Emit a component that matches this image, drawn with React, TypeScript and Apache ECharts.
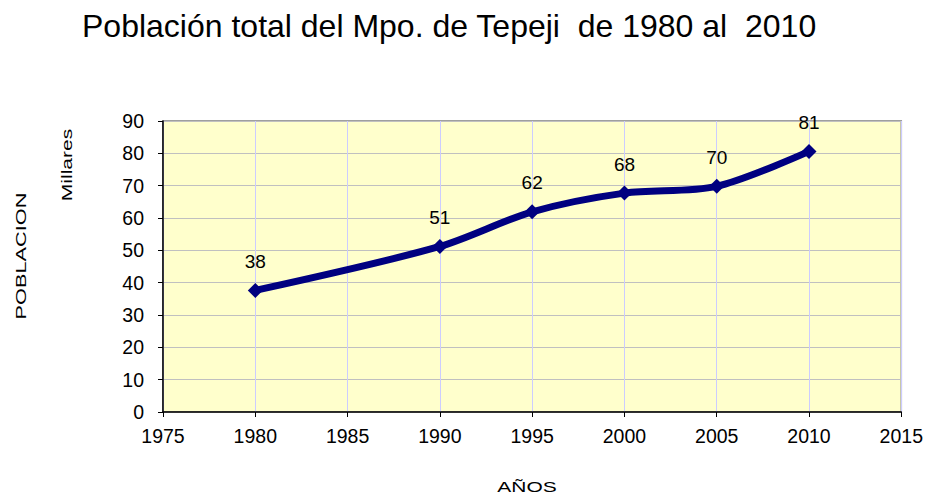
import React, { useEffect, useRef } from "react";
import * as echarts from "echarts";

const years = [1980, 1990, 1995, 2000, 2005, 2010];
const population = [37.6, 51.2, 61.9, 67.7, 69.8, 80.6];
const pointLabels = ["38", "51", "62", "68", "70", "81"];

const FONT = "Liberation Sans, Arial, sans-serif";

export default function App() {
  const ref = useRef<HTMLDivElement>(null);
  useEffect(() => {
    if (!ref.current) return;
    const chart = echarts.init(ref.current, undefined, { renderer: "svg" });
    chart.setOption({
      animation: false,
      backgroundColor: "#ffffff",
      textStyle: { fontFamily: FONT },
      title: {
        text: "Población total del Mpo. de Tepeji  de 1980 al  2010",
        left: 77,
        top: 5,
        textStyle: { fontFamily: FONT, fontSize: 32, fontWeight: "normal", color: "#000" },
      },
      grid: {
        left: 163,
        top: 121,
        right: 24,
        bottom: 86,
        show: true,
        backgroundColor: "#ffffcc",
        borderColor: "#808080",
        borderWidth: 1.5,
      },
      xAxis: {
        type: "value",
        min: 1975,
        max: 2015,
        interval: 5,
        axisLine: { show: true, lineStyle: { color: "#000", width: 1.5 } },
        axisTick: { show: true, inside: false, length: 5, lineStyle: { color: "#000" } },
        axisLabel: {
          color: "#000",
          fontSize: 19.5,
          margin: 14,
          fontFamily: FONT,
          formatter: (v: number) => String(v),
        },
        splitLine: { show: true, lineStyle: { color: "#ccccff", width: 1 } },
      },
      yAxis: {
        type: "value",
        min: 0,
        max: 90,
        interval: 10,
        axisLine: { show: true, lineStyle: { color: "#000", width: 1.5 } },
        axisTick: { show: true, inside: false, length: 5, lineStyle: { color: "#000" } },
        axisLabel: { color: "#000", fontSize: 19.5, margin: 19, fontFamily: FONT },
        splitLine: { show: true, lineStyle: { color: "#c0c0c0", width: 1 } },
      },
      graphic: [
        {
          type: "text",
          x: 21,
          y: 256,
          rotation: Math.PI / 2,
          scaleX: 1.45,
          style: {
            text: "POBLACION",
            fontFamily: FONT,
            fontSize: 15,
            fill: "#000",
            align: "center",
            verticalAlign: "middle",
          },
        },
        {
          type: "text",
          x: 67,
          y: 165,
          rotation: Math.PI / 2,
          scaleX: 1.4,
          style: {
            text: "Millares",
            fontFamily: FONT,
            fontSize: 15,
            fill: "#000",
            align: "center",
            verticalAlign: "middle",
          },
        },
        {
          type: "text",
          x: 527,
          y: 487,
          scaleX: 1.4,
          style: {
            text: "AÑOS",
            fontFamily: FONT,
            fontSize: 15,
            fill: "#000",
            align: "center",
            verticalAlign: "middle",
          },
        },
      ],
      series: [
        {
          type: "line",
          data: years.map((y, i) => [y, population[i]]),
          smooth: 0.3,
          symbol: "diamond",
          symbolSize: 15,
          lineStyle: { color: "#000080", width: 7 },
          itemStyle: { color: "#000080" },
          label: {
            show: true,
            position: "top",
            distance: 12,
            fontSize: 19,
            color: "#000",
            fontFamily: FONT,
            formatter: (p: any) => pointLabels[p.dataIndex],
          },
        },
      ],
    });
    return () => chart.dispose();
  }, []);
  return (
    <div
      ref={ref}
      style={{ position: "fixed", left: 0, top: 0, width: 926, height: 498 }}
    />
  );
}
